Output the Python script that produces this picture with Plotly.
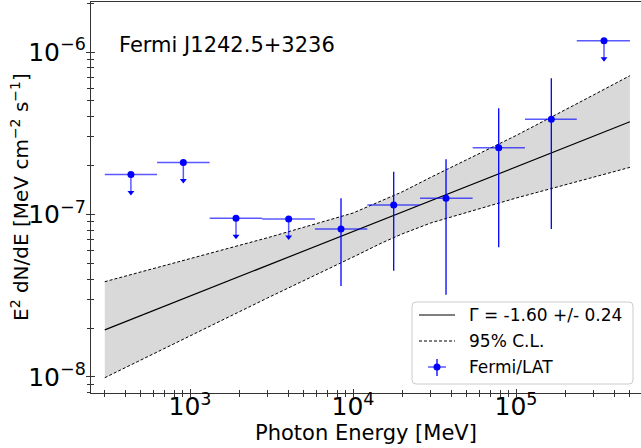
import plotly.graph_objects as go

# ---------------- data ----------------
# Fermi/LAT SED points: bin edges, centres, fluxes (E^2 dN/dE, MeV cm^-2 s^-1)
e_lo = [300, 628, 1320, 2770, 5840, 12240, 25760, 54200, 113500, 236000]
e_hi = [628, 1320, 2770, 5840, 12240, 25760, 54200, 113500, 236000, 500000]
e_c = [434, 910, 1915, 4030, 8440, 17770, 37210, 78330, 164700, 346700]
flux = [1.76e-7, 2.09e-7, 9.47e-8, 9.38e-8, 8.14e-8, 1.144e-7, 1.258e-7,
        2.576e-7, 3.853e-7, 1.173e-6]
flux_lo = [None, None, None, None, 3.63e-8, 4.51e-8, 3.21e-8, 6.28e-8, 8.14e-8, None]
flux_hi = [None, None, None, None, 1.26e-7, 1.834e-7, 2.186e-7, 4.50e-7, 6.89e-7, None]
is_ul = [True, True, True, True, False, False, False, False, False, True]

# power-law model and 95% C.L. butterfly
model_e = [300, 500000]
model_f = [1.95e-8, 3.72e-7]
band_e = [300, 1000, 3000, 10000, 15000, 20000, 30000, 100000, 300000, 500000]
band_hi = [3.86e-8, 5.35e-8, 7.20e-8, 1.021e-7, 1.21e-7, 1.377e-7, 1.694e-7,
           3.06e-7, 5.45e-7, 7.15e-7]
band_lo = [9.90e-9, 1.787e-8, 3.07e-8, 5.47e-8, 6.68e-8, 7.59e-8, 8.87e-8,
           1.262e-7, 1.70e-7, 1.95e-7]

source_name = "Fermi J1242.5+3236"
legend_labels = ["Γ = -1.60 +/- 0.24", "95% C.L.", "Fermi/LAT"]
x_title = "Photon Energy [MeV]"
y_title = "E<sup>2</sup> dN/dE [MeV cm<sup>−2</sup> s<sup>−1</sup>]"

# ---------------- styling ----------------
FONT = "DejaVu Sans"
BLUE = "#0000ff"
BLUE_L = "rgba(0,0,255,0.65)"
AX = "#333333"
UL_FACTOR = 0.775  # arrow length for upper limits (visual)
W, H = 641, 448
ML, MR, MT, MB = 91, 0, 2, 55
PW, PH = W - ML - MR, H - MT - MB


def px(p):  # pixel x -> paper x
    return (p - ML) / PW


def py(p):  # pixel y -> paper y
    return (H - MB - p) / PH


fig = go.Figure()

# band fill
fig.add_trace(go.Scatter(
    x=band_e + band_e[::-1], y=band_hi + band_lo[::-1],
    fill="toself", fillcolor="#d9d9d9", line=dict(width=0),
    mode="lines", showlegend=False, hoverinfo="skip"))

# model line
fig.add_trace(go.Scatter(x=model_e, y=model_f, mode="lines",
                         line=dict(color="black", width=1.2), showlegend=False))
# dashed CL lines
for b in (band_hi, band_lo):
    fig.add_trace(go.Scatter(x=band_e, y=b, mode="lines",
                             line=dict(color="black", width=1, dash="3px,2px"),
                             showlegend=False))

# detections
idx_d = [i for i, u in enumerate(is_ul) if not u]
xd = [e_c[i] for i in idx_d]
yd = [flux[i] for i in idx_d]
fig.add_trace(go.Scatter(
    x=xd, y=yd, mode="markers", showlegend=False,
    marker=dict(color=BLUE, size=7),
    error_x=dict(type="data", symmetric=False,
                 array=[e_hi[i] - e_c[i] for i in idx_d],
                 arrayminus=[e_c[i] - e_lo[i] for i in idx_d],
                 color=BLUE_L, thickness=1.5, width=0),
    error_y=dict(type="data", symmetric=False,
                 array=[flux_hi[i] - flux[i] for i in idx_d],
                 arrayminus=[flux[i] - flux_lo[i] for i in idx_d],
                 color=BLUE, thickness=1.3, width=0)))

# upper limits
idx_u = [i for i, u in enumerate(is_ul) if u]
xu = [e_c[i] for i in idx_u]
yu = [flux[i] for i in idx_u]
fig.add_trace(go.Scatter(
    x=xu, y=yu, mode="markers", showlegend=False,
    marker=dict(color=BLUE, size=7),
    error_x=dict(type="data", symmetric=False,
                 array=[e_hi[i] - e_c[i] for i in idx_u],
                 arrayminus=[e_c[i] - e_lo[i] for i in idx_u],
                 color=BLUE_L, thickness=1.5, width=0),
    error_y=dict(type="data", symmetric=False,
                 array=[0] * len(idx_u),
                 arrayminus=[v * (1 - UL_FACTOR) for v in yu],
                 color=BLUE_L, thickness=1.5, width=0)))
fig.add_trace(go.Scatter(
    x=xu, y=[v * UL_FACTOR for v in yu], mode="markers", showlegend=False,
    marker=dict(symbol="triangle-down", color=BLUE, size=6, line=dict(width=0))))

# dummy traces for overlay tick axes
for xa, ya in (("x2", "y2"), ("x3", "y3")):
    fig.add_trace(go.Scatter(x=[1000], y=[1e-7], xaxis=xa, yaxis=ya,
                             mode="markers", marker=dict(opacity=0),
                             showlegend=False, hoverinfo="skip"))

XR = [2.3926, 5.7669]
YR = [-8.0985, -5.6923]


def tick_axis(rng, overlay, anchor, side, direction, major_len, minor_len):
    return dict(type="log", range=rng, dtick=1, overlaying=overlay, anchor=anchor,
                side=side, ticks=direction, ticklen=major_len, tickwidth=1,
                tickcolor=AX, showticklabels=False, showgrid=False,
                zeroline=False, showline=False,
                minor=dict(ticks=direction, ticklen=minor_len, dtick="D1",
                           tickcolor=AX, tickwidth=1, showgrid=False))


# manual legend
lx0, lx1, ly0, ly1, r = 412, 633, 302, 384, 4
legend_path = (
    f"M {px(lx0 + r)} {py(ly0)} L {px(lx1 - r)} {py(ly0)} "
    f"Q {px(lx1)} {py(ly0)} {px(lx1)} {py(ly0 + r)} "
    f"L {px(lx1)} {py(ly1 - r)} Q {px(lx1)} {py(ly1)} {px(lx1 - r)} {py(ly1)} "
    f"L {px(lx0 + r)} {py(ly1)} Q {px(lx0)} {py(ly1)} {px(lx0)} {py(ly1 - r)} "
    f"L {px(lx0)} {py(ly0 + r)} Q {px(lx0)} {py(ly0)} {px(lx0 + r)} {py(ly0)} Z")
row_y = [315, 341, 367]
shapes = [
    dict(type="path", xref="paper", yref="paper", path=legend_path,
         line=dict(color="#cccccc", width=1), fillcolor="rgba(255,255,255,0.85)"),
    dict(type="line", xref="paper", yref="paper", x0=px(419), x1=px(455),
         y0=py(row_y[0]), y1=py(row_y[0]), line=dict(color="black", width=1.2)),
    dict(type="line", xref="paper", yref="paper", x0=px(419), x1=px(455),
         y0=py(row_y[1]), y1=py(row_y[1]),
         line=dict(color="black", width=1, dash="3px,2px")),
    dict(type="line", xref="paper", yref="paper", x0=px(428), x1=px(446),
         y0=py(row_y[2]), y1=py(row_y[2]), line=dict(color=BLUE_L, width=1.5)),
    dict(type="line", xref="paper", yref="paper", x0=px(437), x1=px(437),
         y0=py(row_y[2] - 8), y1=py(row_y[2] + 9), line=dict(color=BLUE, width=1.3)),
    dict(type="circle", xref="paper", yref="paper", x0=px(433.5), x1=px(440.5),
         y0=py(row_y[2] - 3.5), y1=py(row_y[2] + 3.5),
         fillcolor=BLUE, line=dict(width=0)),
]
annotations = [
    dict(text=source_name, xref="paper", yref="paper", x=px(117), y=py(45),
         xanchor="left", yanchor="middle", showarrow=False, font=dict(size=21)),
    dict(text=x_title, xref="paper", yref="paper", x=0.5, y=py(433),
         xanchor="center", yanchor="middle", showarrow=False, font=dict(size=21)),
    dict(text=y_title, xref="paper", yref="paper", x=px(20), y=py(197),
         xanchor="center", yanchor="middle", textangle=-90, showarrow=False,
         font=dict(size=20)),
]
for lab, ry in zip(legend_labels, row_y):
    annotations.append(dict(text=lab, xref="paper", yref="paper", x=px(467),
                            y=py(ry), xanchor="left", yanchor="middle",
                            showarrow=False, font=dict(size=17)))

fig.update_layout(
    width=W, height=H,
    margin=dict(l=ML, r=MR, t=MT, b=MB),
    plot_bgcolor="white", paper_bgcolor="white",
    font=dict(family=FONT, size=20, color="black"),
    showlegend=False,
    xaxis=dict(type="log", range=XR, dtick=1, exponentformat="power",
               showline=True, linecolor=AX, linewidth=1.3, mirror=True,
               ticks="", showgrid=False, zeroline=False, ticklabelstandoff=-8,
               tickfont=dict(size=20)),
    yaxis=dict(type="log", range=YR, dtick=1, exponentformat="power",
               showline=True, linecolor=AX, linewidth=1.3,
               ticks="", showgrid=False, zeroline=False,
               tickfont=dict(size=20)),
    xaxis2=tick_axis(XR, "x", "y2", "bottom", "inside", 4, 3),
    yaxis2=tick_axis(YR, "y", "x2", "left", "inside", 4, 3),
    xaxis3=tick_axis(XR, "x", "y3", "bottom", "outside", 4, 3),
    yaxis3=tick_axis(YR, "y", "x3", "left", "outside", 4, 3),
    shapes=shapes,
    annotations=annotations,
)

fig.write_html("out.html")
